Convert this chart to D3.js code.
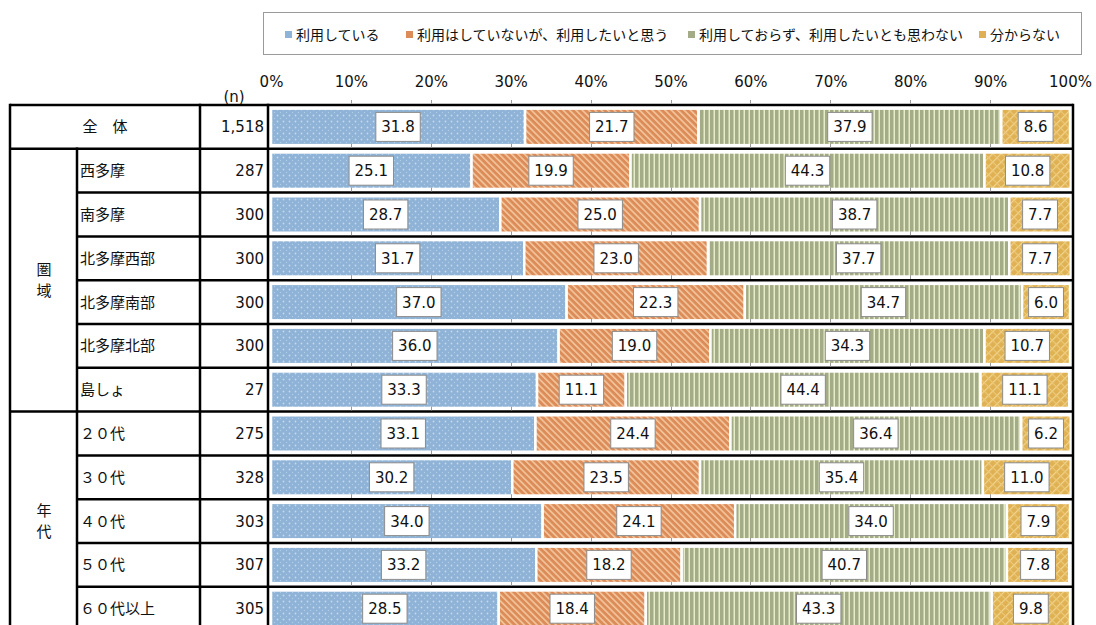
<!DOCTYPE html>
<html>
<head>
<meta charset="utf-8">
<script src="https://cdn.jsdelivr.net/npm/d3@7"></script>
<style>
  html, body { margin: 0; padding: 0; background: #fff; }
  svg { display: block; }
  .num { font-family: "DejaVu Sans", Verdana, sans-serif; font-size: 15px; fill: #111; }
  .jp { font-family: "Noto Sans CJK JP", "Noto Sans", sans-serif; font-size: 15px; fill: #111; }
</style>
</head>
<body>
<svg id="chart" width="1096" height="625"></svg>
<script>
// Survey responses (%), one row per respondent group
const categories = ["全　体", "西多摩", "南多摩", "北多摩西部", "北多摩南部", "北多摩北部", "島しょ",
                    "２０代", "３０代", "４０代", "５０代", "６０代以上"];
const sampleSizes = ["1,518", "287", "300", "300", "300", "300", "27", "275", "328", "303", "307", "305"];
const seriesNames = ["利用している", "利用はしていないが、利用したいと思う", "利用しておらず、利用したいとも思わない", "分からない"];
const using        = [31.8, 25.1, 28.7, 31.7, 37.0, 36.0, 33.3, 33.1, 30.2, 34.0, 33.2, 28.5];
const wantToUse    = [21.7, 19.9, 25.0, 23.0, 22.3, 19.0, 11.1, 24.4, 23.5, 24.1, 18.2, 18.4];
const notWantToUse = [37.9, 44.3, 38.7, 37.7, 34.7, 34.3, 44.4, 36.4, 35.4, 34.0, 40.7, 43.3];
const unknown      = [8.6, 10.8, 7.7, 7.7, 6.0, 10.7, 11.1, 6.2, 11.0, 7.9, 7.8, 9.8];
const tickValues = [0, 10, 20, 30, 40, 50, 60, 70, 80, 90, 100];
const groups = [
  { label: "圏域", from: 1, to: 6 },
  { label: "年代", from: 7, to: 11 }
];

const seriesValues = [using, wantToUse, notWantToUse, unknown];
const rows = categories.map((c, i) => {
  const r = { cat: c, n: sampleSizes[i] };
  seriesNames.forEach((s, k) => r[s] = seriesValues[k][i]);
  return r;
});

const svg = d3.select("#chart");

// ---- fill patterns ----
const defs = svg.append("defs");
// blue speckle
const pBlue = defs.append("pattern").attr("id", "pat0").attr("patternUnits", "userSpaceOnUse")
  .attr("width", 6).attr("height", 6);
pBlue.append("rect").attr("width", 6).attr("height", 6).attr("fill", "#8fb3d6");
pBlue.append("circle").attr("cx", 1.5).attr("cy", 1.5).attr("r", 0.9).attr("fill", "#c3d9ee");
pBlue.append("circle").attr("cx", 4.5).attr("cy", 4.5).attr("r", 0.7).attr("fill", "#b2cde8");
// orange diagonal stripes
const pOr = defs.append("pattern").attr("id", "pat1").attr("patternUnits", "userSpaceOnUse")
  .attr("width", 4.5).attr("height", 4.5).attr("patternTransform", "rotate(-45)");
pOr.append("rect").attr("width", 4.5).attr("height", 4.5).attr("fill", "#dc8c58");
pOr.append("rect").attr("width", 1.6).attr("height", 4.5).attr("fill", "#f3c79e");
// green vertical stripes
const pGr = defs.append("pattern").attr("id", "pat2").attr("patternUnits", "userSpaceOnUse")
  .attr("width", 5).attr("height", 5);
pGr.append("rect").attr("width", 5).attr("height", 5).attr("fill", "#a3ac86");
pGr.append("rect").attr("x", 3.5).attr("width", 1.5).attr("height", 5).attr("fill", "#e6ecc8");
// yellow lattice
const pYe = defs.append("pattern").attr("id", "pat3").attr("patternUnits", "userSpaceOnUse")
  .attr("width", 6).attr("height", 6).attr("patternTransform", "rotate(45)");
pYe.append("rect").attr("width", 6).attr("height", 6).attr("fill", "#dfb152");
pYe.append("rect").attr("width", 1.2).attr("height", 6).attr("fill", "#f1d593");
pYe.append("rect").attr("width", 6).attr("height", 1.2).attr("fill", "#ecc877");

const fills = ["url(#pat0)", "url(#pat1)", "url(#pat2)", "url(#pat3)"];
const swatch = ["#8fb3d6", "#dc8c58", "#a3ac86", "#dfb152"];

// ---- scales ----
const x = d3.scaleLinear().domain([0, 100]).range([271, 1070]);
const y = d3.scaleBand().domain(categories).range([105, 105 + 12 * 43.8]).padding(0);
const barH = 36.5;

// ---- legend ----
const lg = svg.append("g");
lg.append("rect").attr("x", 263.5).attr("y", 12.5).attr("width", 818).attr("height", 42)
  .attr("fill", "#fff").attr("stroke", "#9a9a9a").attr("stroke-width", 1);
const legendX = [285, 406, 688, 979];
seriesNames.forEach((s, k) => {
  lg.append("rect").attr("x", legendX[k]).attr("y", 31).attr("width", 7).attr("height", 7).attr("fill", swatch[k]);
  lg.append("text").attr("class", "jp").attr("x", legendX[k] + 11).attr("y", 40)
    .style("font-size", "14px").text(s);
});

// ---- stacked bars ----
const stack = d3.stack().keys(seriesNames);
const layers = stack(rows);

const barG = svg.append("g");
layers.forEach((layer, k) => {
  barG.selectAll(null).data(layer).enter().append("rect")
    .attr("x", d => x(d[0]))
    .attr("width", d => x(d[1]) - x(d[0]))
    .attr("y", d => y(d.data.cat) + y.bandwidth() / 2 - barH / 2)
    .attr("height", barH)
    .attr("fill", fills[k])
    .attr("stroke", "#fff")
    .attr("stroke-width", 2.5);
});

// ---- value labels ----
const labG = svg.append("g");
layers.forEach((layer, k) => {
  layer.forEach(d => {
    const cx = (x(d[0]) + x(d[1])) / 2;
    const cy = y(d.data.cat) + y.bandwidth() / 2;
    const g = labG.append("g");
    const t = g.append("text").attr("class", "num").attr("x", cx).attr("y", cy + 5.5)
      .attr("text-anchor", "middle").text(d.data[seriesNames[k]].toFixed(1));
    const w = t.node().getComputedTextLength();
    g.insert("rect", "text").attr("x", cx - w / 2 - 5.5).attr("y", cy - 14.5)
      .attr("width", w + 11).attr("height", 29)
      .attr("fill", "#fff").attr("stroke", "#8c8c8c").attr("stroke-width", 1);
  });
});

// ---- top axis tick labels ----
const axisG = svg.append("g").attr("transform", "translate(0,87)");
axisG.call(d3.axisTop(x).tickValues(tickValues).tickFormat(d => d + "%").tickSize(0).tickPadding(0));
axisG.select(".domain").remove();
axisG.selectAll("text").attr("class", "num").attr("fill", "#111").attr("dy", 0)
  .style("font-family", "DejaVu Sans, Verdana, sans-serif").style("font-size", "15px");

svg.append("text").attr("class", "num").attr("x", 234).attr("y", 102).attr("text-anchor", "middle").text("(n)");

// ---- table grid and separators ----
const lines = svg.append("g").attr("stroke", "#000").attr("stroke-width", 2.5);
const bounds = d3.range(categories.length + 1).map(i => 105 + i * y.bandwidth());
const bottom = 640;
const groupStarts = new Set([0, 1, 7]);
bounds.forEach((b, i) => {
  const x0 = groupStarts.has(i) ? 10 : 77;
  lines.append("line").attr("x1", x0).attr("x2", 1073).attr("y1", b).attr("y2", b);
});
[[10, bounds[0]], [77, bounds[1]], [200, bounds[0]], [268, bounds[0]], [1073, bounds[0]]].forEach(([lx, ly]) => {
  lines.append("line").attr("x1", lx).attr("x2", lx).attr("y1", ly - 1.25).attr("y2", bottom);
});

// small tick marks above each separator in the plot area
const tickG = svg.append("g").attr("stroke", "#9a9a9a").attr("stroke-width", 1);
bounds.forEach(b => {
  tickValues.slice(1, -1).forEach(v => {
    tickG.append("line").attr("x1", Math.round(x(v)) + 0.5).attr("x2", Math.round(x(v)) + 0.5)
      .attr("y1", b - 5).attr("y2", b - 1.2);
  });
});

// ---- row labels ----
const labelsG = svg.append("g");
categories.forEach((c, i) => {
  const cy = y(c) + y.bandwidth() / 2 + 5.5;
  if (i === 0) {
    labelsG.append("text").attr("class", "jp").attr("x", 105).attr("y", cy).attr("text-anchor", "middle").text(c);
  } else {
    labelsG.append("text").attr("class", "jp").attr("x", 80).attr("y", cy).text(c);
  }
  labelsG.append("text").attr("class", "num").attr("x", 264).attr("y", cy).attr("text-anchor", "end").text(sampleSizes[i]);
});
groups.forEach(g => {
  const top = y(categories[g.from]);
  const bot = y(categories[g.to]) + y.bandwidth();
  const mid = (top + bot) / 2;
  [...g.label].forEach((ch, j) => {
    labelsG.append("text").attr("class", "jp").attr("x", 44).attr("y", mid - 11 + j * 21 + 5.5)
      .attr("text-anchor", "middle").text(ch);
  });
});
</script>
</body>
</html>
